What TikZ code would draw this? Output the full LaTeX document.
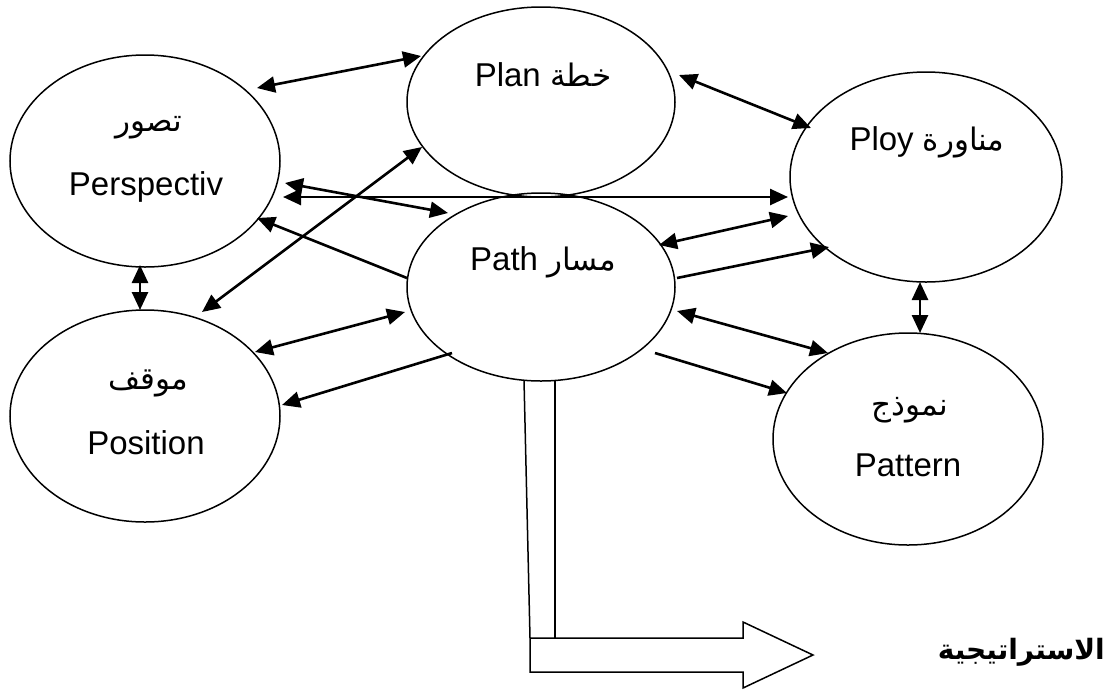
\documentclass[tikz,border=0pt]{standalone}
\usepackage{fontspec}
\setmainfont{Liberation Sans}
\newfontfamily\arabicfont[Script=Arabic]{DejaVu Sans}
\TeXXeTstate=1
\usetikzlibrary{shapes.geometric,arrows.meta,calc}
\begin{document}
\begin{tikzpicture}[x=1pt,y=-1pt,
  >={Triangle[length=18pt,width=16pt]},
  oval/.style={draw, ellipse, line width=1.5pt, inner sep=0pt},
  lbl/.style={font=\fontsize{33}{38}\selectfont, inner sep=0pt},
  albl/.style={font=\arabicfont\fontsize{31}{36}\selectfont, inner sep=0pt},
  conn/.style={line width=2.6pt},
  bigarrow/.style={line width=1.5pt}]
\useasboundingbox (0,0) rectangle (1111,689);
% ellipses
\node[oval, minimum width=270pt, minimum height=212pt] (persp) at (145,161) {};
\node[oval, minimum width=270pt, minimum height=212pt] (pos) at (145,416) {};
\node[oval, minimum width=268pt, minimum height=190pt] (plan) at (541,102) {};
\node[oval, minimum width=268pt, minimum height=188pt] (path) at (541,287) {};
\node[oval, minimum width=272pt, minimum height=210pt] (ploy) at (926,177) {};
\node[oval, minimum width=270pt, minimum height=212pt] (patt) at (908,439) {};
% labels
\node[albl] (tpersp) at (149,128) {\beginR تصور\endR};
\node[lbl] (epersp) at (146,187) {Perspectiv};
\node[albl] (tpos) at (148,383) {\beginR موقف\endR};
\node[lbl] (epos) at (146,443) {Position};
\node[lbl] (tplan) at (543,75) {Plan {\arabicfont\fontsize{31}{36}\selectfont\beginR خطة\endR}};
\node[lbl] (tpath) at (543,262) {Path {\arabicfont\fontsize{31}{36}\selectfont\beginR مسار\endR}};
\node[lbl] (tploy) at (927,142) {Ploy {\arabicfont\fontsize{31}{36}\selectfont\beginR مناورة\endR}};
\node[albl] (tpatt) at (910,410) {\beginR نموذج\endR};
\node[lbl] (epatt) at (908,465) {Pattern};
\node[font=\arabicfont\bfseries\fontsize{28}{34}\selectfont, inner sep=0pt, anchor=east] (strat) at (1105,652) {\beginR الاستراتيجية\endR};
% connectors
\draw[conn,<->] ($(persp.center)+(112,-73)$) -- ($(plan.center)+(-120,-46)$);
\draw[conn,<->] ($(plan.center)+(138,-27)$) -- ($(ploy.center)+(-115,-49)$);
\draw[conn,<->] ($(persp.center)+(138,36)$) -- ($(ploy.center)+(-138,20)$);
\draw[conn,<->] ($(persp.center)+(140,22)$) -- ($(path.center)+(-93,-74)$);
\draw[conn,->] ($(path.center)+(-134,-9)$) -- ($(persp.center)+(112,57)$);
\draw[conn,<->] ($(pos.center)+(57,-104)$) -- ($(plan.center)+(-119,45)$);
\draw[conn,<->] ($(pos.center)+(110,-64)$) -- ($(path.center)+(-136,25)$);
\draw[conn,->] ($(path.center)+(-89,66)$) -- ($(pos.center)+(137,-11)$);
\draw[conn,<->] ($(path.center)+(118,-42)$) -- ($(ploy.center)+(-138,39)$);
\draw[conn,->] ($(path.center)+(136,-9)$) -- ($(ploy.center)+(-97,70)$);
\draw[conn,<->] ($(path.center)+(136,24)$) -- ($(patt.center)+(-80,-86)$);
\draw[conn,->] ($(path.center)+(114,66)$) -- ($(patt.center)+(-121,-46)$);
\draw[conn,<->] ($(ploy.center)+(-6,105)$) -- ($(patt.center)+(12,-106)$);
\draw[conn,<->] ($(persp.center)+(-5,104)$) -- ($(pos.center)+(-5,-106)$);
% big arrow from Path to strategy
\draw[bigarrow] ($(path.center)+(-17,93)$) -- (530,638);
\draw[bigarrow] ($(path.center)+(14,93)$) -- (555,638);
\draw[bigarrow, line join=miter] (530,638) -- (743,638) -- (743,622) -- (813,655) -- (743,688) -- (743,672) -- (530,672) -- cycle;
\end{tikzpicture}
\end{document}
